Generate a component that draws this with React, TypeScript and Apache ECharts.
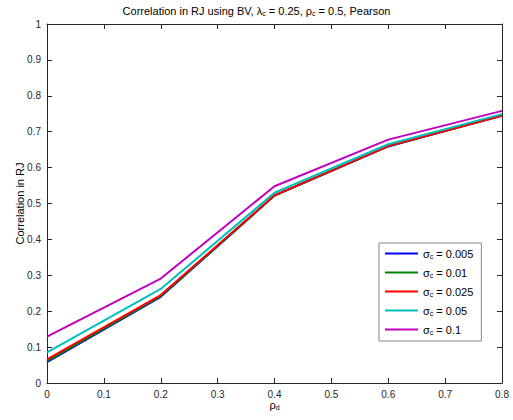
import React, { useEffect, useRef } from "react";
import * as echarts from "echarts";

const xValues = [0, 0.2, 0.4, 0.6, 0.8];
const seriesNames = ["0.005", "0.01", "0.025", "0.05", "0.1"];
const blue = [0.058, 0.24, 0.522, 0.659, 0.745];
const green = [0.061, 0.242, 0.522, 0.66, 0.745];
const red = [0.066, 0.245, 0.523, 0.66, 0.744];
const cyan = [0.085, 0.262, 0.53, 0.665, 0.749];
const purple = [0.129, 0.291, 0.548, 0.678, 0.758];
const seriesValues = [blue, green, red, cyan, purple];
const colors = ["#0000ff", "#008000", "#ff0000", "#00bfbf", "#bf00bf"];

const FONT = "Liberation Sans, Arial, sans-serif";

export default function App() {
  const ref = useRef<HTMLDivElement>(null);
  useEffect(() => {
    if (!ref.current) return;
    const chart = echarts.init(ref.current, undefined, { renderer: "svg" });
    const axisCommon = {
      axisLine: { show: true, onZero: false, lineStyle: { color: "#262626", width: 1 } },
      axisTick: { show: true, inside: true, length: 5, lineStyle: { color: "#262626" } },
      splitLine: { show: false },
    };
    const sub = { fontSize: 7, padding: [6, 0, 0, 0], fontFamily: FONT, color: "#000" };
    chart.setOption({
      animation: false,
      backgroundColor: "#fff",
      textStyle: { fontFamily: FONT },
      title: {
        text: "Correlation in RJ using BV, {g|λ}{sub|c} = 0.25, {g|ρ}{sub|c} = 0.5, Pearson",
        left: "center",
        top: -1,
        textStyle: {
          fontSize: 11,
          fontWeight: "normal",
          color: "#000",
          fontFamily: FONT,
          rich: {
            g: { fontSize: 11, fontFamily: FONT, color: "#000" },
            sub,
          },
        },
      },
      grid: { left: 47, right: 11, top: 24, bottom: 37 },
      xAxis: [
        {
          type: "value",
          min: 0,
          max: 0.8,
          interval: 0.1,
          position: "bottom",
          name: "{g|ρ}{sub|d}",
          nameLocation: "middle",
          nameGap: 15,
          nameMoveOverlap: false,
          nameTextStyle: {
            fontSize: 11,
            color: "#000",
            rich: { g: { fontSize: 11, fontFamily: FONT, color: "#000" }, sub },
          },
          axisLabel: { fontSize: 10, color: "#262626", margin: 6, formatter: (v: number) => String(Math.round(v * 10) / 10) },
          ...axisCommon,
        },
        {
          type: "value",
          min: 0,
          max: 0.8,
          interval: 0.1,
          position: "top",
          axisLabel: { show: false },
          ...axisCommon,
        },
      ],
      yAxis: [
        {
          type: "value",
          min: 0,
          max: 1,
          interval: 0.1,
          position: "left",
          name: "Correlation in RJ",
          nameLocation: "middle",
          nameGap: 22,
          nameMoveOverlap: false,
          nameTextStyle: { fontSize: 11, color: "#000" },
          axisLabel: { fontSize: 10, color: "#262626", margin: 6, formatter: (v: number) => String(Math.round(v * 10) / 10) },
          ...axisCommon,
        },
        {
          type: "value",
          min: 0,
          max: 1,
          interval: 0.1,
          position: "right",
          axisLabel: { show: false },
          ...axisCommon,
        },
      ],
      legend: {
        orient: "vertical",
        left: 379,
        top: 243,
        padding: [4, 8, 5, 6],
        itemGap: 6,
        itemWidth: 33,
        itemHeight: 2,
        icon: "rect",
        backgroundColor: "#fff",
        borderColor: "#888",
        borderWidth: 1,
        data: seriesNames.map((n) => "σc = " + n),
        formatter: (name: string) => "{g|σ}{sub|c}{t| = " + name.slice(5) + "}",
        textStyle: {
          fontSize: 11,
          color: "#000",
          lineHeight: 13,
          rich: {
            g: { fontSize: 11, fontFamily: FONT, color: "#000", lineHeight: 13 },
            t: { fontSize: 11, fontFamily: FONT, color: "#000", lineHeight: 13 },
            sub,
          },
        },
      },
      series: seriesValues.map((vals, i) => ({
        type: "line",
        name: "σc = " + seriesNames[i],
        data: xValues.map((x, j) => [x, vals[j]]),
        showSymbol: false,
        symbol: "none",
        lineStyle: { color: colors[i], width: 2 },
        itemStyle: { color: colors[i] },
        z: 2 + i,
      })),
    });
    return () => chart.dispose();
  }, []);
  return (
    <div
      ref={ref}
      style={{ position: "absolute", left: 0, top: 0, width: 513, height: 420 }}
    />
  );
}
